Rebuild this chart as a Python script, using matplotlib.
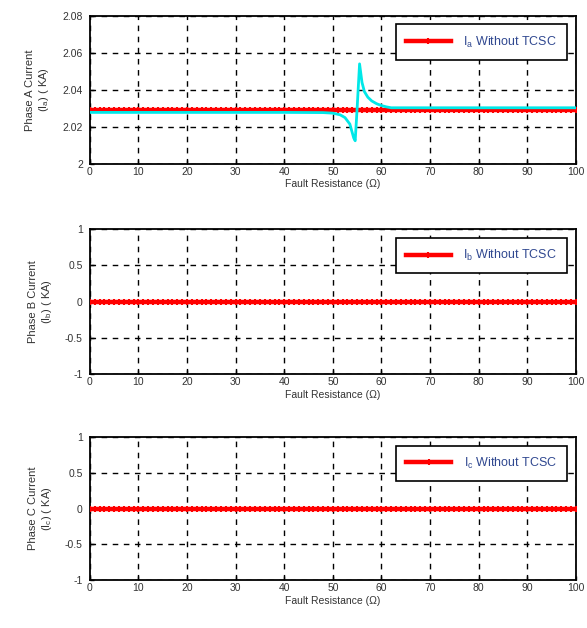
import matplotlib
matplotlib.use("Agg")
import matplotlib.pyplot as plt

# ---------------------------------------------------------------- data ----
# fault resistance sweep (ohm), sampled every 1 ohm for the "without TCSC" runs
res = list(range(0, 101))
ia_without = [2.029] * len(res)            # phase A, kA
ib_without = [0.0] * len(res)              # phase B, kA
ic_without = [0.0] * len(res)              # phase C, kA

# cyan trace (phase A with TCSC): flat, resonance near 55 ohm
res_tcsc = [0, 10, 20, 30, 40, 48, 50, 51.5, 52.5, 53.5, 54.3, 54.6, 55.0, 55.5,
            56.0, 56.5, 57.2, 58.0, 59.0, 60.0, 61.0, 62.0, 70, 80, 90, 100]
ia_tcsc = [2.0278, 2.0278, 2.0278, 2.0278, 2.0278, 2.0277, 2.0274, 2.0265, 2.0250,
           2.0215, 2.0140, 2.0125, 2.0300, 2.0540, 2.0440, 2.0390, 2.0360, 2.0340,
           2.0325, 2.0315, 2.0308, 2.0303, 2.0303, 2.0303, 2.0303, 2.0303]

YLABELS = ["Phase A Current\n($\\mathregular{I_a}$) ( KA)",
           "Phase B Current\n($\\mathregular{I_b}$) ( KA)",
           "Phase C Current\n($\\mathregular{I_c}$) ( KA)"]
LEGENDS = ["$\\mathregular{I_a}$ Without TCSC", "$\\mathregular{I_b}$ Without TCSC",
           "$\\mathregular{I_c}$ Without TCSC"]
YLIMS = [(2.0, 2.08), (-1, 1), (-1, 1)]
YTICKS = [[2.0, 2.02, 2.04, 2.06, 2.08], [-1, -0.5, 0, 0.5, 1], [-1, -0.5, 0, 0.5, 1]]
YTICKLABELS = [["2", "2.02", "2.04", "2.06", "2.08"],
               ["-1", "-0.5", "0", "0.5", "1"], ["-1", "-0.5", "0", "0.5", "1"]]

RED = "#ff0000"
CYAN = "#00e8e8"
INK = "#333333"

plt.rcParams.update({"font.family": ["Liberation Sans", "DejaVu Sans"], "font.size": 7.5})

fig = plt.figure(figsize=(5.87, 6.28), dpi=100)
boxes = [(0.153, 0.739, 0.828, 0.236), (0.153, 0.404, 0.828, 0.231),
         (0.153, 0.076, 0.828, 0.228)]
series = [ia_without, ib_without, ic_without]

for i, box in enumerate(boxes):
    ax = fig.add_axes(box)
    ax.plot(res, series[i], color=RED, lw=3.2, marker="+", ms=4, mew=1.5,
            label=LEGENDS[i], zorder=3)
    if i == 0:
        ax.plot(res_tcsc, ia_tcsc, color=CYAN, lw=2, zorder=4)
    ax.set_xlim(0, 100)
    ax.set_ylim(*YLIMS[i])
    ax.set_xticks(range(0, 101, 10))
    ax.set_yticks(YTICKS[i])
    ax.set_yticklabels(YTICKLABELS[i])
    ax.grid(True, color="black", ls=(0, (4, 4)), lw=1)
    ax.tick_params(direction="in", length=3, width=1, pad=2, labelcolor=INK, labelsize=7.5)
    ax.tick_params(axis="y", pad=5)
    for sp in ax.spines.values():
        sp.set_linewidth(1.3)
    ax.set_xlabel("Fault Resistance (Ω)", labelpad=2, color=INK)
    ax.set_ylabel(YLABELS[i], labelpad=8, color=INK, fontsize=8)
    leg = ax.legend(loc="upper right", fancybox=False, framealpha=1, edgecolor="black",
                    borderaxespad=0.7, fontsize=9, handlelength=3.6, borderpad=0.8,
                    handletextpad=1.0)
    leg.get_frame().set_linewidth(1.2)
    for t in leg.get_texts():
        t.set_color("#304890")

fig.savefig("out.png", dpi=100)
